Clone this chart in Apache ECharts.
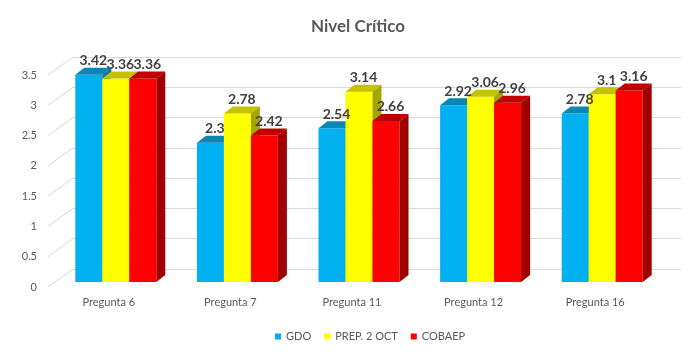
<!DOCTYPE html>
<html>
<head>
<meta charset="utf-8">
<script src="https://cdn.jsdelivr.net/npm/echarts@6/dist/echarts.min.js"></script>
<style>html,body{margin:0;padding:0;background:#fff}#c{width:688px;height:356px}</style>
</head>
<body>
<div id="c"></div>
<script>
const categories = ['Pregunta 6', 'Pregunta 7', 'Pregunta 11', 'Pregunta 12', 'Pregunta 16'];
const seriesNames = ['GDO', 'PREP. 2 OCT', 'COBAEP'];
const gdo = [3.42, 2.3, 2.54, 2.92, 2.78];
const prep = [3.36, 2.78, 3.14, 3.06, 3.1];
const cobaep = [3.36, 2.42, 2.66, 2.96, 3.16];
const yTicks = [0, 0.5, 1, 1.5, 2, 2.5, 3, 3.5];

const FONT = 'Lato, "Open Sans", sans-serif';
const palette = [
  {front: '#00B0F0', top: '#0A86B4', side: '#0577A3'},
  {front: '#FFFF00', top: '#C3C300', side: '#A6A600'},
  {front: '#FF0000', top: '#C00000', side: '#A00000'}
];
const DX = 9, DY = -7;
const WDX = 25, WDY = -18;

function barRender(i) {
  const c = palette[i];
  return function (params, api) {
    const j = api.value(0), v = api.value(1);
    const top = api.coord([j, v]);
    const base = api.coord([j, 0]);
    const band = api.size([1, 0])[0];
    const bw = band * 0.222;
    const x0 = top[0] - 1.5 * bw + i * bw;
    const x1 = x0 + bw;
    const yt = top[1], yb = base[1];
    return {
      type: 'group',
      children: [
        {type: 'rect', shape: {x: x0, y: yt, width: bw, height: yb - yt}, style: {fill: c.front}},
        {type: 'polygon', shape: {points: [[x0, yt], [x1, yt], [x1 + DX, yt + DY], [x0 + DX, yt + DY]]}, style: {fill: c.top}},
        {type: 'polygon', shape: {points: [[x1, yt], [x1 + DX, yt + DY], [x1 + DX, yb + DY], [x1, yb]]}, style: {fill: c.side}},
        {type: 'text', z2: 100, style: {x: (x0 + x1) / 2 + DX / 2, y: yt + DY, text: String(v), align: 'center', verticalAlign: 'bottom', fill: '#404040', font: 'bold 14px ' + FONT}}
      ]
    };
  };
}

const dataSets = [gdo, prep, cobaep];
const barSeries = dataSets.map((arr, i) => ({
  name: seriesNames[i],
  type: 'custom',
  xAxisIndex: 2, yAxisIndex: 2,
  renderItem: barRender(i),
  itemStyle: {color: palette[i].front},
  encode: {x: 0, y: 1},
  data: arr.map((v, j) => [j, v]),
  z: 3
}));

const diagSeries = {
  type: 'custom',
  xAxisIndex: 1, yAxisIndex: 1,
  silent: true,
  renderItem: function (params, api) {
    const p = api.coord([0, api.value(1)]);
    const left = p[0] - api.size([1, 0])[0] / 2;
    return {type: 'line', shape: {x1: left, y1: p[1], x2: left + WDX, y2: p[1] + WDY}, style: {stroke: '#D9D9D9', lineWidth: 1}};
  },
  encode: {x: 0, y: 1},
  data: yTicks.map(v => [0, v]),
  z: 1
};

const chart = echarts.init(document.getElementById('c'));
chart.setOption({
  backgroundColor: '#fff',
  animation: false,
  title: {text: 'Nivel Crítico', left: 306, top: 13, textStyle: {fontFamily: FONT, fontSize: 17, fontWeight: 'bold', color: '#595959'}},
  legend: {
    left: 270, top: 326, icon: 'rect', itemWidth: 6, itemHeight: 6, itemGap: 13,
    textStyle: {fontFamily: FONT, fontSize: 11, color: '#595959'},
    data: seriesNames.map((n, i) => ({name: n, itemStyle: {color: palette[i].front}}))
  },
  grid: [
    {left: 73, top: 57, width: 608, height: 212},
    {left: 48, top: 75, width: 608, height: 212},
    {left: 55, top: 70, width: 608, height: 212}
  ],
  xAxis: [
    {gridIndex: 0, type: 'category', data: categories, show: false},
    {gridIndex: 1, type: 'category', data: categories, axisLine: {show: false}, axisTick: {show: false},
      axisLabel: {margin: 10, fontFamily: FONT, fontSize: 11, color: '#595959'}},
    {gridIndex: 2, type: 'category', data: categories, show: false}
  ],
  yAxis: [
    {gridIndex: 0, type: 'value', min: 0, max: 3.5, interval: 0.5, axisLabel: {show: false}, axisLine: {show: false}, axisTick: {show: false},
      splitLine: {lineStyle: {color: '#D9D9D9', width: 1}}},
    {gridIndex: 1, type: 'value', min: 0, max: 3.5, interval: 0.5, axisLine: {show: false}, axisTick: {show: false}, splitLine: {show: false},
      axisLabel: {margin: 11, fontFamily: FONT, fontSize: 11, color: '#595959'}},
    {gridIndex: 2, type: 'value', min: 0, max: 3.5, interval: 0.5, show: false, splitLine: {show: false}}
  ],
  series: [diagSeries].concat(barSeries)
});
</script>
</body>
</html>
